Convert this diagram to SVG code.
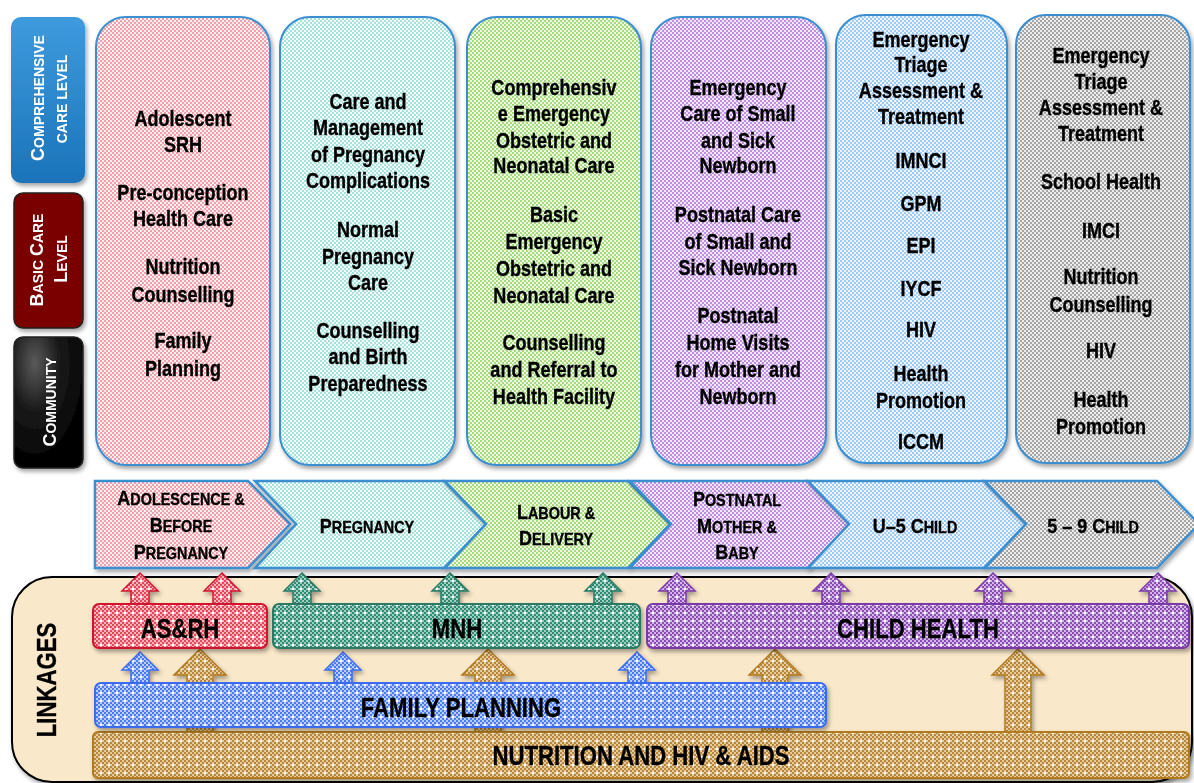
<svg xmlns="http://www.w3.org/2000/svg" width="1194" height="783" viewBox="0 0 1194 783">
<defs>
<style>
.t{font-family:"Liberation Sans",Arial,sans-serif;font-weight:bold;fill:#000;text-anchor:middle;stroke:#000;stroke-width:0.35}
.col{font-size:22px}
.chev{font-size:16px}
.big{font-size:20px}
.lbl{font-family:"Liberation Sans",Arial,sans-serif;font-weight:bold;fill:#fff;text-anchor:middle;font-size:14px}
.lbig{font-size:18px}
.bar{font-size:27px}
.colbox{stroke:#3A8FD0;stroke-width:2}
.chbox{stroke:#3A8FD0;stroke-width:2.5}
</style>
<filter id="sh" x="-10%" y="-10%" width="130%" height="130%"><feDropShadow dx="2" dy="3" stdDeviation="2" flood-color="#000" flood-opacity="0.35"/></filter>
<pattern id="pPink" width="4" height="4" patternUnits="userSpaceOnUse"><rect width="4" height="4" fill="#FDEFF1"/><rect width="2" height="2" fill="#EFA0AB"/><rect x="2" y="2" width="2" height="2" fill="#EFA0AB"/></pattern>
<pattern id="pCyan" width="4" height="4" patternUnits="userSpaceOnUse"><rect width="4" height="4" fill="#F0FBFA"/><rect width="2" height="2" fill="#A8E2DC"/><rect x="2" y="2" width="2" height="2" fill="#A8E2DC"/></pattern>
<pattern id="pGreen" width="4" height="4" patternUnits="userSpaceOnUse"><rect width="4" height="4" fill="#EEF9E4"/><rect width="2" height="2" fill="#A6DA7C"/><rect x="2" y="2" width="2" height="2" fill="#A6DA7C"/></pattern>
<pattern id="pPurple" width="4" height="4" patternUnits="userSpaceOnUse"><rect width="4" height="4" fill="#F3E8FA"/><rect width="2" height="2" fill="#BF8FE0"/><rect x="2" y="2" width="2" height="2" fill="#BF8FE0"/></pattern>
<pattern id="pBlue" width="4" height="4" patternUnits="userSpaceOnUse"><rect width="4" height="4" fill="#EEF6FD"/><rect width="2" height="2" fill="#9FCBF2"/><rect x="2" y="2" width="2" height="2" fill="#9FCBF2"/></pattern>
<pattern id="pGray" width="4" height="4" patternUnits="userSpaceOnUse"><rect width="4" height="4" fill="#EDEDED"/><rect width="2" height="2" fill="#A5A5A5"/><rect x="2" y="2" width="2" height="2" fill="#A5A5A5"/></pattern>
<pattern id="bRed" width="8" height="8" patternUnits="userSpaceOnUse"><rect width="8" height="8" fill="#F7B6BE"/><rect width="2" height="2" fill="#E5475A"/><rect x="2" y="2" width="2" height="2" fill="#E5475A"/><rect x="4" width="2" height="2" fill="#E5475A"/><rect x="6" y="2" width="2" height="2" fill="#E5475A"/><rect y="4" width="2" height="2" fill="#E5475A"/><rect x="2" y="6" width="2" height="2" fill="#E5475A"/><rect x="6" y="6" width="2" height="2" fill="#E5475A"/><rect x="4" y="4" width="2" height="2" fill="#fff"/></pattern>
<pattern id="bTeal" width="8" height="8" patternUnits="userSpaceOnUse"><rect width="8" height="8" fill="#9FD0C2"/><rect width="2" height="2" fill="#2E8A72"/><rect x="2" y="2" width="2" height="2" fill="#2E8A72"/><rect x="4" width="2" height="2" fill="#2E8A72"/><rect x="6" y="2" width="2" height="2" fill="#2E8A72"/><rect y="4" width="2" height="2" fill="#2E8A72"/><rect x="2" y="6" width="2" height="2" fill="#2E8A72"/><rect x="6" y="6" width="2" height="2" fill="#2E8A72"/><rect x="4" y="4" width="2" height="2" fill="#fff"/></pattern>
<pattern id="bPurple" width="8" height="8" patternUnits="userSpaceOnUse"><rect width="8" height="8" fill="#D4B6EA"/><rect width="2" height="2" fill="#8A4DB3"/><rect x="2" y="2" width="2" height="2" fill="#8A4DB3"/><rect x="4" width="2" height="2" fill="#8A4DB3"/><rect x="6" y="2" width="2" height="2" fill="#8A4DB3"/><rect y="4" width="2" height="2" fill="#8A4DB3"/><rect x="2" y="6" width="2" height="2" fill="#8A4DB3"/><rect x="6" y="6" width="2" height="2" fill="#8A4DB3"/><rect x="4" y="4" width="2" height="2" fill="#fff"/></pattern>
<pattern id="bBlue" width="8" height="8" patternUnits="userSpaceOnUse"><rect width="8" height="8" fill="#B8CDFB"/><rect width="2" height="2" fill="#4A7CF5"/><rect x="2" y="2" width="2" height="2" fill="#4A7CF5"/><rect x="4" width="2" height="2" fill="#4A7CF5"/><rect x="6" y="2" width="2" height="2" fill="#4A7CF5"/><rect y="4" width="2" height="2" fill="#4A7CF5"/><rect x="2" y="6" width="2" height="2" fill="#4A7CF5"/><rect x="6" y="6" width="2" height="2" fill="#4A7CF5"/><rect x="4" y="4" width="2" height="2" fill="#fff"/></pattern>
<pattern id="bGold" width="8" height="8" patternUnits="userSpaceOnUse"><rect width="8" height="8" fill="#E6CC9C"/><rect width="2" height="2" fill="#B8863A"/><rect x="2" y="2" width="2" height="2" fill="#B8863A"/><rect x="4" width="2" height="2" fill="#B8863A"/><rect x="6" y="2" width="2" height="2" fill="#B8863A"/><rect y="4" width="2" height="2" fill="#B8863A"/><rect x="2" y="6" width="2" height="2" fill="#B8863A"/><rect x="6" y="6" width="2" height="2" fill="#B8863A"/><rect x="4" y="4" width="2" height="2" fill="#fff"/></pattern>
<linearGradient id="gBlue" x1="0" y1="0" x2="0" y2="1"><stop offset="0" stop-color="#3E9BDD"/><stop offset="1" stop-color="#1B73B9"/></linearGradient>
<radialGradient id="gBlack" cx="0.3" cy="0.2" r="0.8"><stop offset="0" stop-color="#5a5a5a"/><stop offset="0.45" stop-color="#1a1a1a"/><stop offset="1" stop-color="#000"/></radialGradient>
</defs>
<rect width="1194" height="783" fill="#fff"/>

<!-- level labels -->
<g id="level-comprehensive" filter="url(#sh)">
<rect x="11" y="17" width="74" height="166" rx="10" fill="url(#gBlue)"/>
<text class="lbl" transform="translate(44 98) rotate(-90)"><tspan class="lbig">C</tspan>OMPREHENSIVE</text>
<text class="lbl" transform="translate(67 99) rotate(-90)">CARE LEVEL</text>
</g>
<g id="level-basic" filter="url(#sh)">
<rect x="14" y="193" width="69" height="135" rx="9" fill="#7A0000" stroke="#222" stroke-width="1.5"/>
<text class="lbl" transform="translate(43 260) rotate(-90)"><tspan class="lbig">B</tspan>ASIC <tspan class="lbig">C</tspan>ARE</text>
<text class="lbl" transform="translate(67 259) rotate(-90)"><tspan class="lbig">L</tspan>EVEL</text>
</g>
<g id="level-community" filter="url(#sh)">
<rect x="14" y="337" width="69" height="131" rx="9" fill="url(#gBlack)" stroke="#222" stroke-width="1.5"/>
<text class="lbl" transform="translate(56 402) rotate(-90)"><tspan class="lbig">C</tspan>OMMUNITY</text>
</g>

<!-- columns -->
<g id="col-adolescence" filter="url(#sh)">
<rect class="colbox" x="96" y="17" width="174" height="448" rx="30" fill="url(#pPink)"/>
<g class="t col" transform="translate(183 0) scale(0.82 1)">
<text x="0" y="126">Adolescent</text><text x="0" y="152">SRH</text>
<text x="0" y="200">Pre-conception</text><text x="0" y="226">Health Care</text>
<text x="0" y="274">Nutrition</text><text x="0" y="302">Counselling</text>
<text x="0" y="348">Family</text><text x="0" y="376">Planning</text>
</g>
</g>
<g id="col-pregnancy" filter="url(#sh)">
<rect class="colbox" x="280" y="17" width="175" height="448" rx="30" fill="url(#pCyan)"/>
<g class="t col" transform="translate(368 0) scale(0.82 1)">
<text x="0" y="109">Care and</text><text x="0" y="135">Management</text><text x="0" y="162">of Pregnancy</text><text x="0" y="188">Complications</text>
<text x="0" y="237">Normal</text><text x="0" y="264">Pregnancy</text><text x="0" y="290">Care</text>
<text x="0" y="338">Counselling</text><text x="0" y="364">and Birth</text><text x="0" y="391">Preparedness</text>
</g>
</g>
<g id="col-labour" filter="url(#sh)">
<rect class="colbox" x="467" y="17" width="174" height="448" rx="30" fill="url(#pGreen)"/>
<g class="t col" transform="translate(554 0) scale(0.82 1)">
<text x="0" y="95">Comprehensiv</text><text x="0" y="121">e Emergency</text><text x="0" y="148">Obstetric and</text><text x="0" y="173">Neonatal Care</text>
<text x="0" y="222">Basic</text><text x="0" y="249">Emergency</text><text x="0" y="276">Obstetric and</text><text x="0" y="303">Neonatal Care</text>
<text x="0" y="350">Counselling</text><text x="0" y="377">and Referral to</text><text x="0" y="404">Health Facility</text>
</g>
</g>
<g id="col-postnatal" filter="url(#sh)">
<rect class="colbox" x="651" y="17" width="175" height="448" rx="30" fill="url(#pPurple)"/>
<g class="t col" transform="translate(738 0) scale(0.82 1)">
<text x="0" y="95">Emergency</text><text x="0" y="121">Care of Small</text><text x="0" y="148">and Sick</text><text x="0" y="173">Newborn</text>
<text x="0" y="222">Postnatal Care</text><text x="0" y="249">of Small and</text><text x="0" y="275">Sick Newborn</text>
<text x="0" y="323">Postnatal</text><text x="0" y="350">Home Visits</text><text x="0" y="377">for Mother and</text><text x="0" y="404">Newborn</text>
</g>
</g>
<g id="col-under5" filter="url(#sh)">
<rect class="colbox" x="836" y="15" width="171" height="448" rx="30" fill="url(#pBlue)"/>
<g class="t col" transform="translate(921 0) scale(0.82 1)">
<text x="0" y="47">Emergency</text><text x="0" y="72">Triage</text><text x="0" y="98">Assessment &amp;</text><text x="0" y="124">Treatment</text>
<text x="0" y="168">IMNCI</text><text x="0" y="211">GPM</text><text x="0" y="253">EPI</text><text x="0" y="296">IYCF</text><text x="0" y="337">HIV</text>
<text x="0" y="381">Health</text><text x="0" y="408">Promotion</text><text x="0" y="449">ICCM</text>
</g>
</g>
<g id="col-5to9" filter="url(#sh)">
<rect class="colbox" x="1016" y="15" width="174" height="448" rx="30" fill="url(#pGray)"/>
<g class="t col" transform="translate(1101 0) scale(0.82 1)">
<text x="0" y="63">Emergency</text><text x="0" y="89">Triage</text><text x="0" y="115">Assessment &amp;</text><text x="0" y="141">Treatment</text>
<text x="0" y="189">School Health</text><text x="0" y="238">IMCI</text><text x="0" y="284">Nutrition</text><text x="0" y="312">Counselling</text>
<text x="0" y="358">HIV</text><text x="0" y="407">Health</text><text x="0" y="434">Promotion</text>
</g>
</g>

<!-- chevrons -->
<g id="chev-adolescence" filter="url(#sh)">
<path class="chbox" d="M95,481 H248 L290,524 L248,568 H95 Z" fill="url(#pPink)"/>
<g class="t chev" transform="translate(181 0) scale(0.9 1)">
<text x="0" y="505"><tspan class="big">A</tspan>DOLESCENCE &amp;</text>
<text x="0" y="532"><tspan class="big">B</tspan>EFORE</text>
<text x="0" y="559"><tspan class="big">P</tspan>REGNANCY</text>
</g>
</g>
<g id="chev-pregnancy" filter="url(#sh)">
<path class="chbox" d="M255,481 H444 L486,524 L444,568 H255 L296,524 Z" fill="url(#pCyan)"/>
<g class="t chev" transform="translate(367 0) scale(0.9 1)"><text x="0" y="533"><tspan class="big">P</tspan>REGNANCY</text></g>
</g>
<g id="chev-labour" filter="url(#sh)">
<path class="chbox" d="M445,481 H628 L670,524 L628,568 H445 L486,524 Z" fill="url(#pGreen)"/>
<g class="t chev" transform="translate(556 0) scale(0.9 1)">
<text x="0" y="519"><tspan class="big">L</tspan>ABOUR &amp;</text>
<text x="0" y="545"><tspan class="big">D</tspan>ELIVERY</text>
</g>
</g>
<g id="chev-postnatal" filter="url(#sh)">
<path class="chbox" d="M630,481 H808 L850,524 L808,568 H630 L671,524 Z" fill="url(#pPurple)"/>
<g class="t chev" transform="translate(737 0) scale(0.9 1)">
<text x="0" y="506"><tspan class="big">P</tspan>OSTNATAL</text>
<text x="0" y="533"><tspan class="big">M</tspan>OTHER &amp;</text>
<text x="0" y="559"><tspan class="big">B</tspan>ABY</text>
</g>
</g>
<g id="chev-under5" filter="url(#sh)">
<path class="chbox" d="M808,481 H984 L1026,524 L984,568 H808 L849,524 Z" fill="url(#pBlue)"/>
<g class="t chev" transform="translate(915 0) scale(0.9 1)"><text x="0" y="533"><tspan class="big">U–5 C</tspan>HILD</text></g>
</g>
<g id="chev-5to9" filter="url(#sh)">
<path class="chbox" d="M985,481 H1157 L1199,524 L1157,568 H985 L1026,524 Z" fill="url(#pGray)"/>
<g class="t chev" transform="translate(1093 0) scale(0.9 1)"><text x="0" y="533"><tspan class="big">5 – 9 C</tspan>HILD</text></g>
</g>

<!-- linkages container -->
<g id="linkages" filter="url(#sh)">
<rect x="12" y="577" width="1180" height="205" rx="40" fill="#FAE8CA" stroke="#000" stroke-width="2"/>
<g class="t" transform="translate(56 680) rotate(-90) scale(0.82 1)"><text x="0" y="0" style="font-size:27px">LINKAGES</text></g>
</g>

<!-- connectors (block arrows) -->
<g id="connectors" filter="url(#sh)">
<g stroke="#D0182E" stroke-width="1.5" fill="url(#bRed)">
<path d="M140,573 L158,591 L149,591 L149,605 L131,605 L131,591 L122,591 Z"/>
<path d="M222,573 L240,591 L231,591 L231,605 L213,605 L213,591 L204,591 Z"/>
</g>
<g stroke="#2A7A64" stroke-width="1.5" fill="url(#bTeal)">
<path d="M302,573 L320,591 L311,591 L311,605 L293,605 L293,591 L284,591 Z"/>
<path d="M450,573 L468,591 L459,591 L459,605 L441,605 L441,591 L432,591 Z"/>
<path d="M603,573 L621,591 L612,591 L612,605 L594,605 L594,591 L585,591 Z"/>
</g>
<g stroke="#7A38A8" stroke-width="1.5" fill="url(#bPurple)">
<path d="M677,573 L695,591 L686,591 L686,605 L668,605 L668,591 L659,591 Z"/>
<path d="M831,573 L849,591 L840,591 L840,605 L822,605 L822,591 L813,591 Z"/>
<path d="M993,573 L1011,591 L1002,591 L1002,605 L984,605 L984,591 L975,591 Z"/>
<path d="M1158,573 L1176,591 L1167,591 L1167,605 L1149,605 L1149,591 L1140,591 Z"/>
</g>
<g stroke="#B27A1E" stroke-width="1.5" fill="url(#bGold)">
<path d="M200,649 L226,675 L213,675 L213,733 L187,733 L187,675 L174,675 Z"/>
<path d="M488,649 L514,675 L501,675 L501,733 L475,733 L475,675 L462,675 Z"/>
<path d="M775,649 L801,675 L788,675 L788,733 L762,733 L762,675 L749,675 Z"/>
<path d="M1018,649 L1044,675 L1031,675 L1031,733 L1005,733 L1005,675 L992,675 Z"/>
</g>
<g stroke="#3B6CF0" stroke-width="1.5" fill="url(#bBlue)">
<path d="M140,652 L158,670 L149,670 L149,684 L131,684 L131,670 L122,670 Z"/>
<path d="M343,652 L361,670 L352,670 L352,684 L334,684 L334,670 L325,670 Z"/>
<path d="M637,652 L655,670 L646,670 L646,684 L628,684 L628,670 L619,670 Z"/>
</g>
</g>

<!-- bars -->
<g id="bar-nutrition" filter="url(#sh)">
<rect x="93" y="732" width="1096" height="46" rx="5" fill="url(#bGold)" stroke="#B27A1E" stroke-width="2"/>
<g class="t" transform="translate(641 765) scale(0.82 1)"><text x="0" y="0" class="bar">NUTRITION AND HIV &amp; AIDS</text></g>
</g>
<g id="bar-family-planning" filter="url(#sh)">
<rect x="95" y="683" width="731" height="44" rx="6" fill="url(#bBlue)" stroke="#3B6CF0" stroke-width="2"/>
<g class="t" transform="translate(461 717) scale(0.82 1)"><text x="0" y="0" class="bar">FAMILY PLANNING</text></g>
</g>
<g id="bar-asrh" filter="url(#sh)">
<rect x="93" y="604" width="174" height="44" rx="6" fill="url(#bRed)" stroke="#D0182E" stroke-width="2"/>
<g class="t" transform="translate(180 638) scale(0.82 1)"><text x="0" y="0" class="bar">AS&amp;RH</text></g>
</g>
<g id="bar-mnh" filter="url(#sh)">
<rect x="273" y="604" width="367" height="44" rx="6" fill="url(#bTeal)" stroke="#2A7A64" stroke-width="2"/>
<g class="t" transform="translate(457 638) scale(0.82 1)"><text x="0" y="0" class="bar">MNH</text></g>
</g>
<g id="bar-child-health" filter="url(#sh)">
<rect x="647" y="604" width="542" height="44" rx="6" fill="url(#bPurple)" stroke="#7A38A8" stroke-width="2"/>
<g class="t" transform="translate(918 638) scale(0.82 1)"><text x="0" y="0" class="bar">CHILD HEALTH</text></g>
</g>
</svg>
